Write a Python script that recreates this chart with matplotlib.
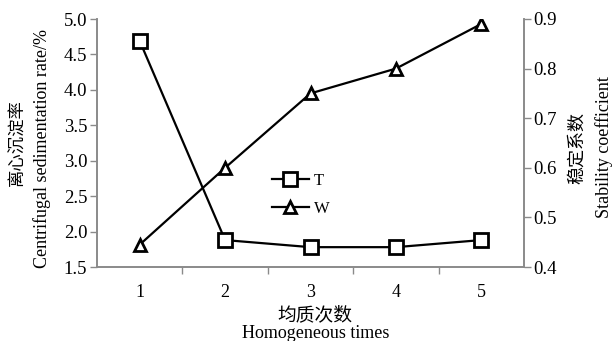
import matplotlib.pyplot as plt
from matplotlib.ticker import FixedLocator

plt.rcParams['font.family'] = ['Liberation Serif', 'Noto Sans CJK SC']

times = [1, 2, 3, 4, 5]
sed_rate = [4.69, 1.88, 1.78, 1.78, 1.88]        # T, left axis (%)
stability = [0.445, 0.60, 0.75, 0.80, 0.89]      # W, right axis

spine_col = '#8a8a8a'
W, H = 613, 341

fig = plt.figure(figsize=(W / 100, H / 100), dpi=100)
ax = fig.add_axes([97 / W, 1 - 267 / H, (524 - 97) / W, (267 - 19) / H])
ax2 = ax.twinx()

lt, = ax.plot(times, sed_rate, color='black', lw=1.6, marker='s', ms=9.5,
              mfc='white', mec='black', mew=2.0, label='T', zorder=3)
lw, = ax2.plot(times, stability, color='black', lw=1.6, marker='^', ms=9,
               mfc='white', mec='black', mew=2.0, label='W', zorder=3)

ax.set_xlim(0.5, 5.5)
ax.set_ylim(1.5, 5.0)
ax2.set_ylim(0.4, 0.9)
ax.set_yticks([1.5, 2.0, 2.5, 3.0, 3.5, 4.0, 4.5, 5.0])
ax.set_yticklabels([f'{v:.1f}' for v in ax.get_yticks()])
ax2.set_yticks([0.4, 0.5, 0.6, 0.7, 0.8, 0.9])
ax2.set_yticklabels([f'{v:.1f}' for v in ax2.get_yticks()])

ax.set_xticks(times)
ax.xaxis.set_minor_locator(FixedLocator([1.5, 2.5, 3.5, 4.5]))
ax.tick_params(axis='x', which='major', length=0, labelsize=13, pad=12)
ax.tick_params(axis='x', which='minor', length=5, color=spine_col, width=1)
ax.tick_params(axis='y', length=5, color=spine_col, width=1, labelsize=13.5, pad=2)
ax2.tick_params(axis='y', length=5, color=spine_col, width=1, labelsize=13.5, pad=2)

for a in (ax, ax2):
    a.spines['top'].set_visible(False)
    for s in ('left', 'right', 'bottom'):
        a.spines[s].set_color(spine_col)
        a.spines[s].set_linewidth(1.2)

# axis titles, placed line by line (Chinese + English)
def label(x, y, s, size, rot=0):
    fig.text(x / W, 1 - y / H, s, fontsize=size, rotation=rot,
             ha='center', va='center')

label(18, 143, '离心沉淀率', 12.5, 90)
label(42, 148, 'Centrifugal sedimentation rate/%', 13, 90)
label(578, 148, '稳定系数', 13, 90)
label(604, 147, 'Stability coefficient', 13, 90)
label(315, 315, '均质次数', 13.5)
label(316, 334, 'Homogeneous times', 13)

ax.legend(handles=[lt, lw], loc='upper left', bbox_to_anchor=(0.375, 0.44),
          frameon=False, fontsize=12, handlelength=2.2, handletextpad=0.3,
          labelspacing=0.7)

fig.savefig('out.png', dpi=100)
